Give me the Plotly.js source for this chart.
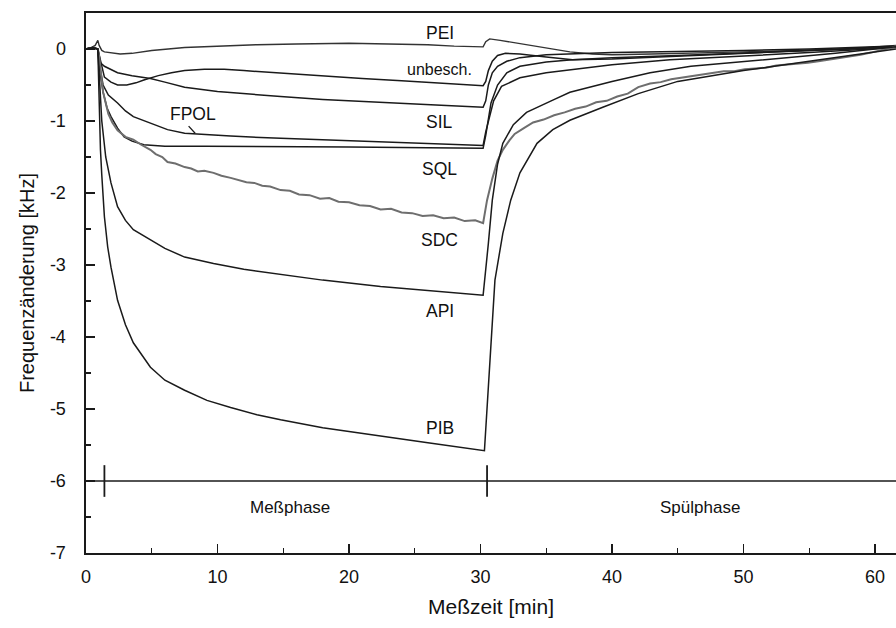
<!DOCTYPE html>
<html>
<head>
<meta charset="utf-8">
<script src="https://cdn.plot.ly/plotly-3.0.1.min.js"></script>
<style>html,body{margin:0;padding:0;background:#fff}#chart{width:896px;height:628px}</style>
</head>
<body>
<div id="chart"></div>
<script>
// ---- Data (time in min, frequency change in kHz) ----
const peiT = [0,0.4,0.7,0.9,1.0,1.2,1.4,2.0,2.6,3.5,5,7.5,10,13,16,20,23,26,28,30.2,30.4,30.7,31.5,32.5,33.8,35,36.8,38.5,40,43,46,50,54,58,61.6];
const peiY = [0,0.02,0.05,0.12,0.05,-0.02,-0.04,-0.06,-0.07,-0.06,-0.02,0.02,0.04,0.06,0.07,0.08,0.07,0.06,0.04,0.03,0.1,0.14,0.12,0.09,0.05,0.01,-0.04,-0.07,-0.08,-0.07,-0.06,-0.04,-0.02,0.0,0.05];

const unbT = [0,0.5,0.9,1.1,1.4,1.9,2.4,3.1,3.8,4.4,5.5,6.5,7.5,9,10.5,12,15,18,21,24,27,30.2,30.4,30.6,30.9,31.3,31.9,33,35,37,40,45,50,55,61.6];
const unbY = [0,0.02,0,-0.15,-0.39,-0.46,-0.5,-0.5,-0.47,-0.43,-0.37,-0.33,-0.3,-0.28,-0.28,-0.3,-0.34,-0.38,-0.41,-0.44,-0.47,-0.51,-0.45,-0.3,-0.17,-0.09,-0.06,-0.07,-0.11,-0.15,-0.14,-0.1,-0.07,-0.03,0.03];

const silT = [0,0.5,0.9,1.1,1.4,1.9,2.4,3.5,4.9,6,7.5,10,12.5,14.8,18,21,24,27,30.2,30.4,30.6,30.9,31.3,32,33,35,40,45,50,55,61.6];
const silY = [0,0.02,0,-0.19,-0.24,-0.29,-0.33,-0.37,-0.41,-0.46,-0.53,-0.59,-0.63,-0.66,-0.7,-0.73,-0.76,-0.78,-0.81,-0.72,-0.5,-0.33,-0.24,-0.17,-0.12,-0.08,-0.05,-0.04,-0.02,0,0.04];

const fpolT = [0,0.5,0.9,1.05,1.3,1.7,2.4,3.0,3.6,4.9,6.2,7.5,9,11,14.8,18,22,26,30.2,30.4,30.7,31.0,31.6,33,35,36.8,40,44.4,50,55,61.6];
const fpolY = [0,0.02,0,-0.25,-0.5,-0.64,-0.75,-0.86,-0.94,-1.03,-1.12,-1.17,-1.19,-1.21,-1.24,-1.26,-1.29,-1.31,-1.34,-1.15,-0.95,-0.72,-0.52,-0.4,-0.33,-0.29,-0.22,-0.15,-0.1,-0.05,0.02];

const sqlT = [0,0.5,0.9,1.05,1.3,1.6,1.9,2.4,2.9,3.5,4.4,6,9,14,20,26,30.2,30.4,30.6,30.8,31.3,32,33,35,37,40,45,50,55,61.6];
const sqlY = [0,0.02,0,-0.3,-0.6,-0.82,-0.94,-1.1,-1.22,-1.28,-1.33,-1.35,-1.35,-1.35,-1.36,-1.37,-1.38,-1.2,-0.95,-0.75,-0.5,-0.33,-0.24,-0.18,-0.15,-0.12,-0.09,-0.06,-0.02,0.03];

const sdcT = [0,0.5,0.9,1.0,1.3,1.7,2.0,2.4,3.0,3.6,4.2,4.9,5.3,5.8,6.2,6.8,7.5,8.0,8.5,9.0,9.7,10.3,11,11.6,12.2,12.8,13.4,14,14.8,15.5,16.2,17,17.8,18.5,19.2,20,20.8,21.6,22.4,23.2,24,24.8,25.6,26.4,27.2,28,28.8,29.6,30.2,
  30.5,30.9,31.3,31.7,32.2,32.6,33.3,34,34.8,35.6,36.4,37.2,38,38.8,39.6,40.4,41.2,42,42.9,43.7,44.5,45.3,46.1,46.9,47.7,48.5,49.3,50.1,50.9,51.7,52.5,53.3,54.1,54.9,55.7,56.5,57.3,58.1,58.9,59.7,60.5,61.3,61.6];
const sdcY = [0,0.02,0,-0.1,-0.6,-0.9,-1.02,-1.13,-1.22,-1.26,-1.33,-1.40,-1.46,-1.50,-1.57,-1.59,-1.64,-1.66,-1.70,-1.69,-1.72,-1.76,-1.79,-1.82,-1.85,-1.86,-1.90,-1.91,-1.96,-1.97,-2.02,-2.03,-2.08,-2.07,-2.12,-2.13,-2.17,-2.18,-2.23,-2.22,-2.27,-2.28,-2.32,-2.31,-2.35,-2.34,-2.39,-2.38,-2.42,
  -2.1,-1.8,-1.55,-1.4,-1.27,-1.18,-1.1,-1.02,-0.98,-0.92,-0.88,-0.83,-0.80,-0.74,-0.72,-0.66,-0.62,-0.53,-0.48,-0.46,-0.42,-0.40,-0.37,-0.35,-0.34,-0.31,-0.31,-0.28,-0.27,-0.26,-0.23,-0.22,-0.21,-0.19,-0.17,-0.15,-0.12,-0.11,-0.08,-0.05,-0.02,0.02,0.04];

const apiT = [0,0.5,0.9,1.0,1.2,1.5,1.9,2.4,3.0,3.6,4.9,6,7.5,9.7,12,14.8,18,22.4,26,30.2,30.6,30.9,31.3,31.7,32.5,33.5,35.5,36.8,40,42.9,46,49.5,53,57,61.6];
const apiY = [0,0.02,0,-0.4,-1.0,-1.5,-1.86,-2.19,-2.38,-2.51,-2.65,-2.77,-2.89,-2.98,-3.06,-3.13,-3.21,-3.3,-3.36,-3.42,-2.7,-2.1,-1.6,-1.31,-1.05,-0.88,-0.71,-0.6,-0.45,-0.33,-0.24,-0.18,-0.12,-0.06,0.03];

const pibT = [0,0.5,0.9,1.0,1.1,1.2,1.4,1.65,1.9,2.4,3.0,3.6,4.9,6,7.5,9.2,11,13,14.8,18,22.4,26,30.3,31.1,31.7,32.3,33,34.3,35.5,36.8,39.3,42,45,50,55,61.6];
const pibY = [0,0.02,0,-0.9,-1.4,-1.75,-2.33,-2.75,-3.03,-3.49,-3.83,-4.08,-4.42,-4.6,-4.74,-4.88,-4.98,-5.08,-5.15,-5.26,-5.38,-5.47,-5.58,-3.21,-2.56,-2.1,-1.72,-1.31,-1.12,-0.99,-0.81,-0.62,-0.45,-0.3,-0.17,0];

// curve labels
const labelText = ['PEI','unbesch.','SIL','FPOL','SQL','SDC','API','PIB'];
const labelX    = [26.9, 26.9, 26.9, 8.1, 26.9, 26.9, 26.9, 26.9];
const labelY    = [0.22, -0.29, -1.01, -0.9, -1.66, -2.65, -3.64, -5.26];

// phase markers
const phaseLevel = -6;
const phaseBounds = [1.4, 30.5];
const phaseNames = ['Meßphase','Spülphase'];
const phaseNameX = [15.5, 46.7];
const phaseNameY = -6.37;

const xTicks = [0,10,20,30,40,50,60];
const yTicks = [0,-1,-2,-3,-4,-5,-6,-7];
const yTickText = ['0','-1','-2','-3','-4','-5','-6','-7'];

// ---- traces ----
const LINE = '#1a1a1a';
const FONT = 'Liberation Sans, Arial, sans-serif';
function curve(t, y, color, w){ return {x:t, y:y, type:'scatter', mode:'lines', line:{color:color, width:w}, hoverinfo:'skip', showlegend:false}; }
const traces = [
  curve(peiT, peiY, '#333', 1.4),
  curve(unbT, unbY, LINE, 1.5),
  curve(silT, silY, LINE, 1.5),
  curve(fpolT, fpolY, LINE, 1.5),
  curve(sqlT, sqlY, LINE, 1.5),
  curve(sdcT, sdcY, '#6e6e6e', 2),
  curve(apiT, apiY, LINE, 1.5),
  curve(pibT, pibY, LINE, 1.5),
  {x:[0, 61.6], y:[phaseLevel, phaseLevel], type:'scatter', mode:'lines', line:{color:LINE,width:1.5}, hoverinfo:'skip', showlegend:false}
];
phaseBounds.forEach(b => traces.push({x:[b,b], y:[phaseLevel+0.22, phaseLevel-0.22], type:'scatter', mode:'lines', line:{color:LINE,width:1.8}, hoverinfo:'skip', showlegend:false}));

const annotations = labelText.map((s,i)=>({x:labelX[i], y:labelY[i], xref:'x', yref:'y', text:s, showarrow:false, font:{family:FONT, size:i===1?16:17.5, color:'#111'}}));
phaseNames.forEach((s,i)=>annotations.push({x:phaseNameX[i], y:phaseNameY, xref:'x', yref:'y', text:s, showarrow:false, font:{family:FONT, size:17, color:'#111'}}));
annotations.push({x:8.3, y:-1.17, ax:7.7, ay:-1.05, xref:'x', yref:'y', axref:'x', ayref:'y', text:'', showarrow:true, arrowhead:0, arrowwidth:1.3, arrowcolor:LINE});

const layout = {
  width:896, height:628,
  margin:{l:86, r:0, t:13, b:75},
  paper_bgcolor:'#fff', plot_bgcolor:'#fff',
  font:{family:FONT, color:'#111'},
  xaxis:{
    range:[0,61.6], tickvals:xTicks, ticks:'inside', ticklen:9, tickwidth:1.5, tickcolor:LINE,
    minor:{dtick:5, tick0:0, ticks:'inside', ticklen:5, tickwidth:1.2, tickcolor:LINE},
    showgrid:false, zeroline:false, showline:true, linecolor:LINE, linewidth:2, mirror:true,
    tickfont:{size:18, color:'#111'}, ticklabelstandoff:6,
    title:{text:'Meßzeit [min]', font:{size:21, color:'#111'}, standoff:14}
  },
  yaxis:{
    range:[-7,0.5], tickvals:yTicks, ticktext:yTickText, ticks:'inside', ticklen:9, tickwidth:1.5, tickcolor:LINE,
    minor:{dtick:0.5, tick0:0, ticks:'inside', ticklen:5, tickwidth:1.2, tickcolor:LINE},
    showgrid:false, zeroline:false, showline:true, linecolor:LINE, linewidth:2.5, mirror:true,
    tickfont:{size:18, color:'#111'}, ticklabelstandoff:14,
    title:{text:'Frequenzänderung [kHz]', font:{size:20, color:'#111'}, standoff:10}
  },
  annotations:annotations,
  showlegend:false
};
Plotly.newPlot('chart', traces, layout, {displayModeBar:false, staticPlot:true});
</script>
</body>
</html>
